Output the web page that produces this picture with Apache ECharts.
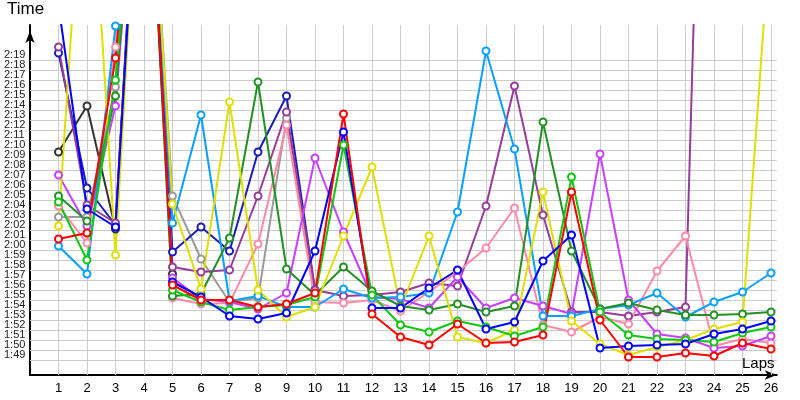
<!DOCTYPE html>
<html>
<head>
<meta charset="utf-8">
<script src="https://cdn.jsdelivr.net/npm/echarts@6/dist/echarts.min.js"></script>
<style>html,body{margin:0;padding:0;background:#fff}#c{width:800px;height:400px}</style>
</head>
<body>
<div id="c"></div>
<script>
// Lap numbers (x axis)
const laps = [1,2,3,4,5,6,7,8,9,10,11,12,13,14,15,16,17,18,19,20,21,22,23,24,25,26];
// Y tick values in seconds (1:49 .. 2:19)
const yTicks = [109,110,111,112,113,114,115,116,117,118,119,120,121,122,123,124,125,126,127,128,129,130,131,132,133,134,135,136,137,138,139];

// Lap times in seconds per driver (values above 142.5 are off the chart)
const red       = [121.1,121.7,139.2,170,116.5,115.0,115.0,114.3,114.6,115.7,133.6,113.6,111.3,110.5,112.6,110.7,110.8,111.5,125.8,113.0,109.3,109.3,109.7,109.4,110.7,110.1];
const blue      = [144.5,124.1,122.3,170,116.8,115.3,113.4,113.1,113.7,119.9,131.8,114.2,114.2,116.2,118.0,112.1,112.8,118.9,121.5,110.2,110.4,110.5,110.6,111.6,112.1,112.9];
const green     = [124.8,119.0,137.0,170,116.0,114.8,114.0,114.3,114.5,115.3,130.5,115.5,112.5,111.8,112.9,112.3,111.4,112.3,127.3,113.8,111.5,111.1,111.0,110.8,111.7,112.3];
const darkGreen = [125.4,122.9,135.4,170,115.4,115.6,121.2,136.8,118.1,115.5,118.3,115.9,114.4,114.0,114.6,113.8,114.4,132.8,119.9,114.1,114.7,114.0,113.5,113.5,113.6,113.8];
const lightBlue = [120.4,117.6,142.4,170,122.7,133.5,114.9,115.4,114.3,114.3,116.1,115.2,115.3,115.7,123.8,139.9,130.1,113.4,113.4,114.1,114.5,115.7,113.3,114.8,115.8,117.7];
const yellow    = [122.4,166.0,119.5,170,124.6,116.1,134.8,116.0,113.3,114.3,121.4,128.3,114.2,121.4,111.3,110.7,112.0,125.8,112.9,110.6,109.5,110.3,111.0,112.1,112.8,152.8];
const purple    = [140.3,124.5,122.7,170,118.3,117.8,118.0,125.4,133.8,116.0,115.4,115.5,115.8,116.7,116.4,124.4,136.4,123.5,113.8,113.8,113.4,113.8,114.3,214.0,null,null];
const violet    = [127.5,122.4,134.4,170,117.2,115.1,114.8,114.1,115.7,129.2,121.8,115.3,115.1,114.2,117.3,114.2,115.2,114.4,113.6,129.6,115.0,111.6,111.2,110.2,110.4,111.4];
const pink      = [124.4,120.7,140.3,170,115.2,114.6,114.7,120.6,132.5,114.8,114.7,115.0,113.9,115.8,117.8,120.2,124.2,112.5,111.8,113.3,112.6,117.9,121.4,110.4,111.1,110.7];
const gray      = [123.3,123.3,136.3,170,125.4,119.1,114.8,115.2,133.2,115.0,null,null,null,null,null,null,null,null,null,null,null,null,null,null,null,null];
const navy      = [139.7,126.2,122.5,172,119.8,122.3,119.9,129.8,135.4,116.0,null,null,null,null,null,null,null,null,null,null,null,null,null,null,null,null];
const black     = [129.8,134.4,122.1,172,117.6,null,null,null,null,null,null,null,null,null,null,null,null,null,null,null,null,null,null,null,null,null];

const drivers = [
  {name:'Gray', data:gray, color:'#9a9a9a'},
  {name:'Black', data:black, color:'#333333'},
  {name:'Navy', data:navy, color:'#1c1cb8'},
  {name:'Purple', data:purple, color:'#963c9a'},
  {name:'Pink', data:pink, color:'#ff8aa8'},
  {name:'Violet', data:violet, color:'#c840ff'},
  {name:'LightBlue', data:lightBlue, color:'#0aa0ff'},
  {name:'DarkGreen', data:darkGreen, color:'#239023'},
  {name:'Yellow', data:yellow, color:'#e0e000'},
  {name:'Green', data:green, color:'#10c810'},
  {name:'Blue', data:blue, color:'#0000ff'},
  {name:'Red', data:red, color:'#ff0000'}
];

function fmt(v){
  const m = Math.floor(v/60), s = Math.round(v - m*60);
  return m + ':' + (s < 10 ? '0' + s : s);
}

const series = drivers.map(d => ({
  name: d.name,
  type: 'line',
  data: laps.map((l,i) => [l, d.data[i]]),
  connectNulls: false,
  symbol: 'emptyCircle',
  symbolSize: 7,
  showAllSymbol: true,
  lineStyle: {color: d.color, width: 2},
  itemStyle: {color: d.color, borderWidth: 1.5},
  z: 3
}));

series.unshift({
  type: 'line',
  data: [],
  silent: true,
  markLine: {
    silent: true,
    symbol: 'none',
    z: 1,
    animation: false,
    label: {show: false},
    lineStyle: {color: '#cccccc', type: 'solid', width: 1},
    emphasis: {disabled: true},
    data: yTicks.map(v => ({yAxis: v})).concat(laps.map(l => ({xAxis: l})))
  }
});

const chart = echarts.init(document.getElementById('c'), null, {renderer: 'canvas'});
chart.setOption({
  animation: false,
  backgroundColor: '#ffffff',
  textStyle: {fontFamily: 'Liberation Sans'},
  title: [
    {text: 'Time', left: 7, top: 1, padding: 0, textStyle: {fontSize: 17, fontWeight: 'normal', color: '#000', fontFamily: 'Liberation Sans'}},
    {text: 'Laps', left: 742, top: 356, padding: 0, textStyle: {fontSize: 15, fontWeight: 'normal', color: '#000', fontFamily: 'Liberation Sans'}}
  ],
  grid: {left: 30, right: 23.3, top: 25, bottom: 25, containLabel: false},
  xAxis: {
    type: 'value', min: 0, max: 26.2, interval: 0.2,
    axisLine: {show: true, lineStyle: {color: '#000', width: 2}, symbol: ['none', 'arrow'], symbolSize: [7, 12], symbolOffset: [0, 0]},
    axisTick: {show: false},
    splitLine: {show: false},
    axisLabel: {
      margin: 7, fontSize: 13, color: '#000', fontFamily: 'Liberation Sans',
      formatter: v => (Math.abs(v - Math.round(v)) < 1e-6 && Math.round(v) >= 1 && Math.round(v) <= 26) ? String(Math.round(v)) : ''
    }
  },
  yAxis: {
    type: 'value', min: 107.5, max: 142.5, interval: 0.5,
    axisLine: {show: true, lineStyle: {color: '#000', width: 2}, symbol: ['none', 'arrow'], symbolSize: [7, 12], symbolOffset: [0, -6]},
    axisTick: {show: false},
    splitLine: {show: false},
    axisLabel: {
      align: 'left', margin: 26, verticalAlign: 'bottom', fontSize: 11, color: '#222', fontFamily: 'Liberation Sans',
      formatter: v => (Math.abs(v - Math.round(v)) < 1e-6 && yTicks.indexOf(Math.round(v)) >= 0) ? fmt(Math.round(v)) : ''
    }
  },
  series: series
});
</script>
</body>
</html>
